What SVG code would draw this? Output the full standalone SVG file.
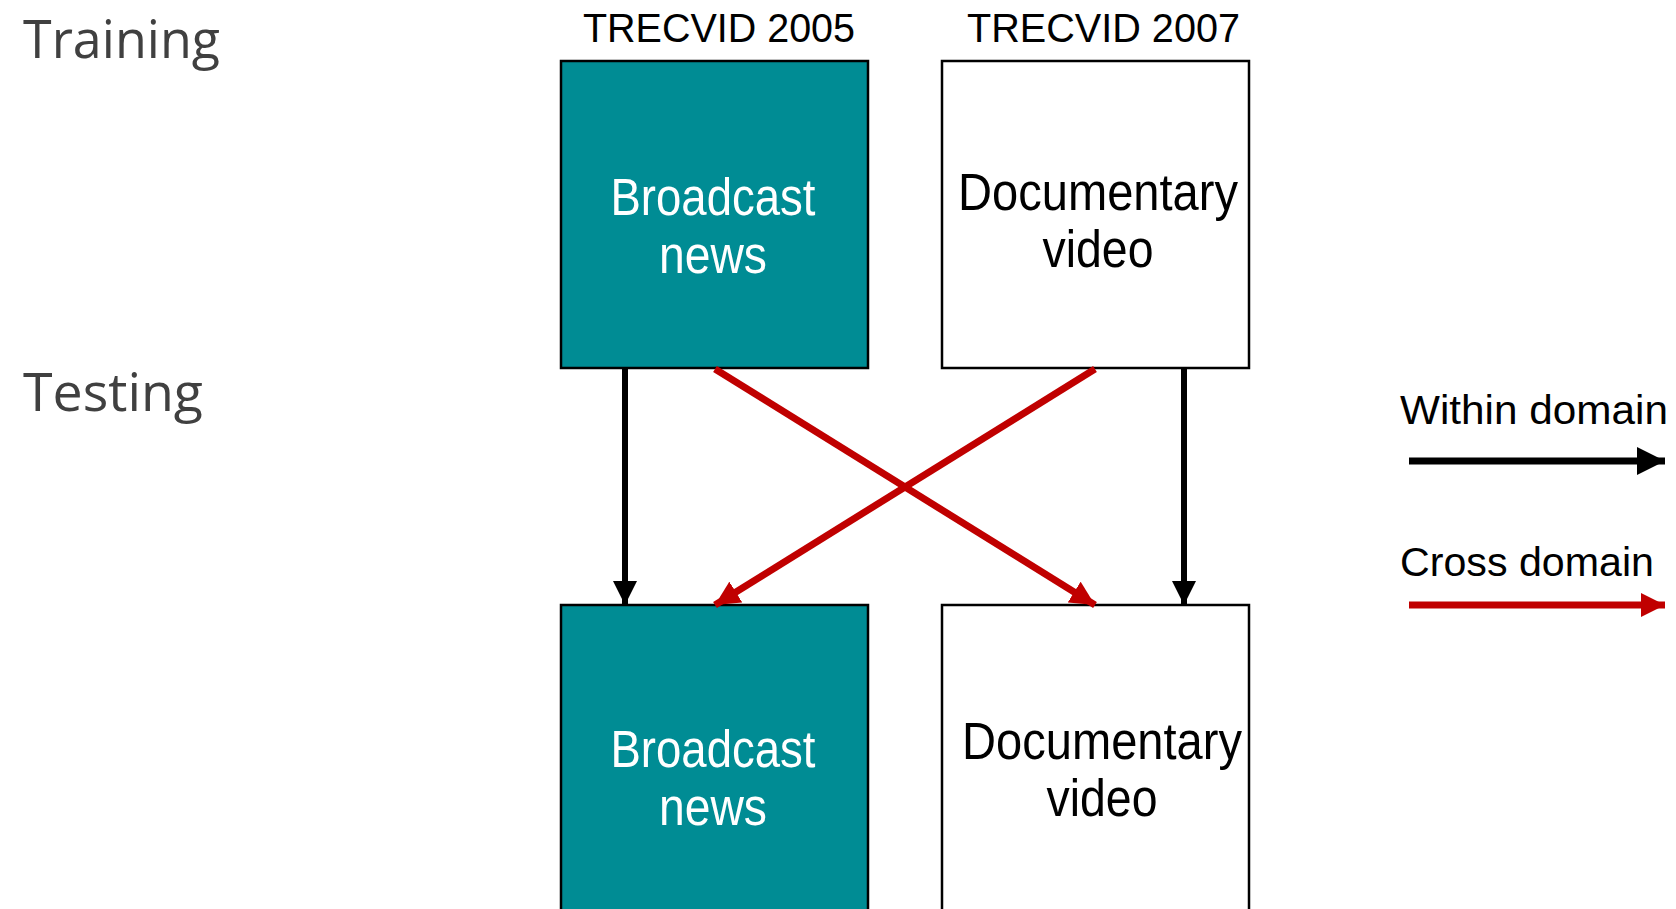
<svg xmlns="http://www.w3.org/2000/svg" width="1676" height="909" viewBox="0 0 1676 909">
<style>
.lbl{font-family:"Open Sans","Noto Sans",sans-serif;font-size:53px;fill:#404040}
.hdr{font-family:"Liberation Sans",Arial,sans-serif;font-size:41px;fill:#000}
.box{stroke:#000;stroke-width:2.5}
.teal{fill:#008C94}
.white{fill:#fff}
.bt{font-family:"Liberation Sans",Arial,sans-serif;font-size:51px;text-anchor:middle}
.wt{fill:#fff}
.kt{fill:#000}
.leg{font-family:"Liberation Sans",Arial,sans-serif;font-size:41px;fill:#000}
.blk{stroke:#000;stroke-width:6;fill:none}
.red{stroke:#C00000;stroke-width:7;fill:none}
.lgl{stroke-width:7}
</style>
<defs>
<marker id="ab" viewBox="0 0 10 10" refX="10" refY="5" markerWidth="4" markerHeight="4" orient="auto" markerUnits="strokeWidth">
<path d="M0,0 L10,5 L0,10 z" fill="#000"/>
</marker>
<marker id="ar" viewBox="0 0 10 10" refX="10" refY="5" markerWidth="3.5" markerHeight="3.5" orient="auto" markerUnits="strokeWidth">
<path d="M0,0 L10,5 L0,10 z" fill="#C00000"/>
</marker>
</defs>
<rect width="1676" height="909" fill="#fff"/>
<g id="label-training"><text class="lbl" x="23" y="58" textLength="197" lengthAdjust="spacingAndGlyphs">Training</text></g>
<g id="label-testing"><text class="lbl" x="23" y="411" textLength="180" lengthAdjust="spacingAndGlyphs">Testing</text></g>
<g id="header-2005"><text class="hdr" x="583" y="42" textLength="272" lengthAdjust="spacingAndGlyphs">TRECVID 2005</text></g>
<g id="header-2007"><text class="hdr" x="967" y="42" textLength="273" lengthAdjust="spacingAndGlyphs">TRECVID 2007</text></g>
<g id="train-bn">
<rect class="box teal" x="561" y="61" width="307" height="307"/>
<text class="bt wt" x="713" y="215" textLength="205" lengthAdjust="spacingAndGlyphs">Broadcast</text>
<text class="bt wt" x="713" y="273" textLength="108" lengthAdjust="spacingAndGlyphs">news</text>
</g>
<g id="train-doc">
<rect class="box white" x="942" y="61" width="307" height="307"/>
<text class="bt kt" x="1098" y="210" textLength="280" lengthAdjust="spacingAndGlyphs">Documentary</text>
<text class="bt kt" x="1098" y="267" textLength="111" lengthAdjust="spacingAndGlyphs">video</text>
</g>
<g id="test-bn">
<rect class="box teal" x="561" y="605" width="307" height="320"/>
<text class="bt wt" x="713" y="767" textLength="205" lengthAdjust="spacingAndGlyphs">Broadcast</text>
<text class="bt wt" x="713" y="825" textLength="108" lengthAdjust="spacingAndGlyphs">news</text>
</g>
<g id="test-doc">
<rect class="box white" x="942" y="605" width="307" height="320"/>
<text class="bt kt" x="1102" y="759" textLength="280" lengthAdjust="spacingAndGlyphs">Documentary</text>
<text class="bt kt" x="1102" y="816" textLength="111" lengthAdjust="spacingAndGlyphs">video</text>
</g>
<g id="connectors">
<line class="blk" x1="625" y1="367" x2="625" y2="605" marker-end="url(#ab)"/>
<line class="blk" x1="1184" y1="367" x2="1184" y2="605" marker-end="url(#ab)"/>
<line class="red" x1="715" y1="369" x2="1095" y2="605" marker-end="url(#ar)"/>
<line class="red" x1="1095" y1="369" x2="715" y2="605" marker-end="url(#ar)"/>
</g>
<g id="legend">
<text class="leg" x="1400" y="424" textLength="268" lengthAdjust="spacingAndGlyphs">Within domain</text>
<line class="blk lgl" x1="1409" y1="461" x2="1665" y2="461" marker-end="url(#ab)"/>
<text class="leg" x="1400" y="576" textLength="254" lengthAdjust="spacingAndGlyphs">Cross domain</text>
<line class="red lgl" x1="1409" y1="605" x2="1665" y2="605" marker-end="url(#ar)"/>
</g>
</svg>
